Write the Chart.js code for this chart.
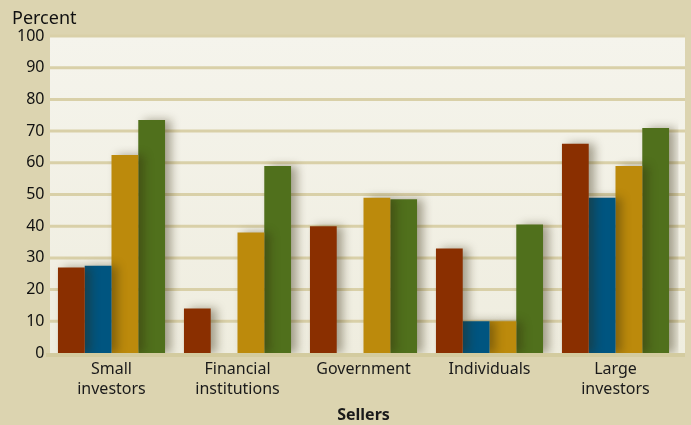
<!DOCTYPE html>
<html lang="en">
<head>
    <meta charset="UTF-8">
    <title>Sellers</title>
    <script src="https://cdn.jsdelivr.net/npm/chart.js"></script>
    <style>
        body { margin: 0; background: #DCD4B0; }
        canvas { display: block; }
    </style>
</head>
<body>
    <canvas id="sellersChart" width="691" height="425"></canvas>

    <script>
        // data
        const categories = [["Small", "investors"], ["Financial", "institutions"], "Government", "Individuals", ["Large", "investors"]];
        const seriesRed = [27, 14, 40, 33, 66];
        const seriesBlue = [27.5, null, null, 10, 49];
        const seriesGold = [62.5, 38, 49, 10, 59];
        const seriesGreen = [73.5, 59, 48.5, 40.5, 71];
        const yTicks = [0, 10, 20, 30, 40, 50, 60, 70, 80, 90, 100];

        const font = "'Noto Sans', 'DejaVu Sans', sans-serif";

        // plot panel is a bit wider than the category area on the right
        const panelLeft = 50, panelRight = 685;

        // plot background, grid lines and "Percent" label
        const plotBg = {
            id: "plotBg",
            beforeDraw(chart) {
                const { ctx, chartArea: a } = chart;
                const y = chart.scales.y;
                ctx.save();
                const g = ctx.createLinearGradient(0, a.top, 0, a.bottom);
                g.addColorStop(0, "#F5F4EC");
                g.addColorStop(1, "#EFEDDF");
                ctx.fillStyle = g;
                ctx.fillRect(panelLeft, a.top, panelRight - panelLeft, a.bottom - a.top);
                ctx.strokeStyle = "#D9D0A8";
                ctx.lineWidth = 3;
                yTicks.forEach(v => {
                    if (v === 0) return;
                    const py = y.getPixelForValue(v);
                    ctx.beginPath();
                    ctx.moveTo(panelLeft, py);
                    ctx.lineTo(panelRight, py);
                    ctx.stroke();
                });
                // bottom band
                ctx.fillStyle = "#D3CB9F";
                ctx.fillRect(panelLeft - 4, a.bottom, panelRight - panelLeft + 4, 4);
                ctx.fillStyle = "#111";
                ctx.font = "18px " + font;
                ctx.fillText("Percent", 12, 24);
                ctx.restore();
            }
        };

        // soft shadow to the right of each bar
        const barShadow = {
            id: "barShadow",
            beforeDatasetsDraw(chart) {
                const ctx = chart.ctx;
                ctx.save();
                ctx.shadowColor = "rgba(50, 40, 10, 0.4)";
                ctx.shadowBlur = 10;
                ctx.shadowOffsetX = 6;
                ctx.shadowOffsetY = 0;
            },
            afterDatasetsDraw(chart) {
                chart.ctx.restore();
            }
        };

        const ctx = document.getElementById("sellersChart").getContext("2d");
        new Chart(ctx, {
            type: "bar",
            data: {
                labels: categories,
                datasets: [
                    { label: "Series 1", data: seriesRed, backgroundColor: "#8A2F00" },
                    { label: "Series 2", data: seriesBlue, backgroundColor: "#005580" },
                    { label: "Series 3", data: seriesGold, backgroundColor: "#BC8A0C" },
                    { label: "Series 4", data: seriesGreen, backgroundColor: "#50701C" }
                ]
            },
            options: {
                responsive: false,
                animation: false,
                layout: { padding: { left: 8, right: 12.5, top: 36, bottom: 0 } },
                datasets: {
                    bar: { barPercentage: 1, categoryPercentage: 0.85, borderWidth: 0 }
                },
                plugins: {
                    legend: { display: false },
                    tooltip: { enabled: false }
                },
                scales: {
                    x: {
                        grid: { display: false, drawTicks: false },
                        border: { display: false },
                        ticks: {
                            color: "#1a1a1a",
                            font: { family: font, size: 16, lineHeight: 1.25 },
                            padding: 6,
                            maxRotation: 0,
                            autoSkip: false
                        },
                        title: {
                            display: true,
                            text: "Sellers",
                            color: "#1a1a1a",
                            font: { family: font, size: 16, weight: "bold" },
                            padding: { top: 2, bottom: 0 }
                        },
                        afterFit(scale) { scale.height = 72; }
                    },
                    y: {
                        min: 0,
                        max: 100,
                        afterBuildTicks(scale) {
                            scale.ticks = yTicks.map(v => ({ value: v }));
                        },
                        grid: { display: false, drawTicks: false },
                        border: { display: false },
                        ticks: {
                            color: "#111",
                            font: { family: font, size: 16 },
                            padding: 4
                        },
                        afterFit(scale) { scale.width = 40.5; }
                    }
                }
            },
            plugins: [plotBg, barShadow]
        });
    </script>
</body>
</html>
